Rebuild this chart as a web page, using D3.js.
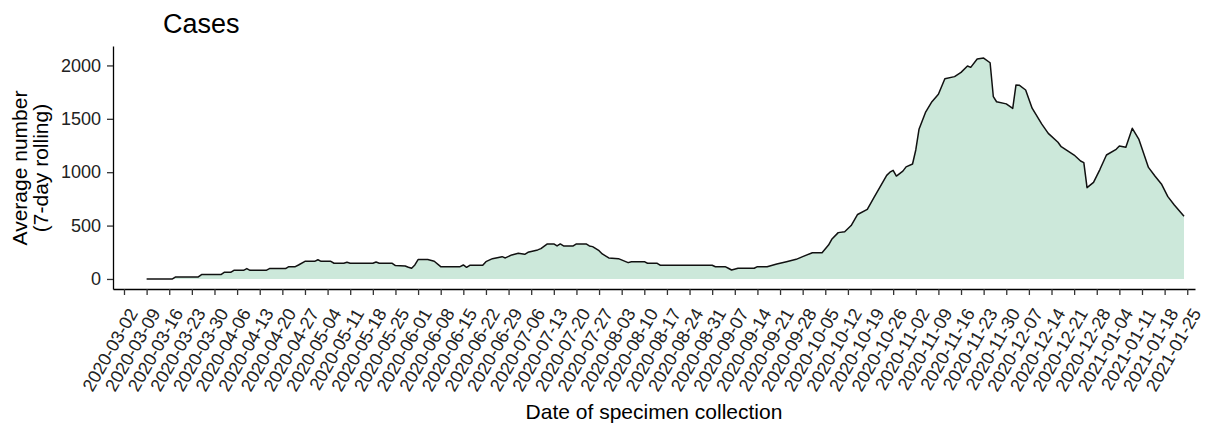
<!DOCTYPE html>
<html>
<head>
<meta charset="utf-8">
<script src="https://cdn.jsdelivr.net/npm/d3@7"></script>
<style>
  body { margin: 0; background: #fff; }
  svg { display: block; font-family: "Liberation Sans", Arial, sans-serif; }
</style>
</head>
<body>
<svg id="chart" width="1211" height="434"></svg>
<script>
// DATA
const title = "Cases";
const yTitle = ["Average number", "(7-day rolling)"];
const xTitle = "Date of specimen collection";

const dates = [
  "2020-03-09","2020-03-17","2020-03-18","2020-03-25","2020-03-26","2020-04-01","2020-04-02","2020-04-04",
  "2020-04-05","2020-04-08","2020-04-09","2020-04-10","2020-04-15","2020-04-16","2020-04-21","2020-04-22",
  "2020-04-24","2020-04-25","2020-04-27","2020-04-30","2020-05-01","2020-05-02","2020-05-05","2020-05-06",
  "2020-05-09","2020-05-10","2020-05-11","2020-05-18","2020-05-19","2020-05-20","2020-05-24","2020-05-25",
  "2020-05-28","2020-05-29","2020-05-30","2020-05-31","2020-06-01","2020-06-04","2020-06-06","2020-06-08",
  "2020-06-14","2020-06-15","2020-06-16","2020-06-17","2020-06-21","2020-06-22","2020-06-24","2020-06-27",
  "2020-06-28","2020-06-30","2020-07-02","2020-07-04","2020-07-05","2020-07-08","2020-07-09","2020-07-11",
  "2020-07-13","2020-07-14","2020-07-15","2020-07-16","2020-07-19","2020-07-20","2020-07-23","2020-07-24",
  "2020-07-25","2020-07-27","2020-07-28","2020-07-30","2020-08-02","2020-08-05","2020-08-06","2020-08-10",
  "2020-08-11","2020-08-14","2020-08-15","2020-08-31","2020-09-01","2020-09-04","2020-09-05","2020-09-06",
  "2020-09-08","2020-09-13","2020-09-14","2020-09-17","2020-09-20","2020-09-23","2020-09-26","2020-09-28",
  "2020-10-01","2020-10-04","2020-10-06","2020-10-07","2020-10-09","2020-10-11","2020-10-13","2020-10-15",
  "2020-10-18","2020-10-20","2020-10-22","2020-10-24","2020-10-25","2020-10-26","2020-10-27","2020-10-29",
  "2020-10-30","2020-11-01","2020-11-02","2020-11-03","2020-11-05","2020-11-07","2020-11-09","2020-11-11",
  "2020-11-14","2020-11-16","2020-11-18","2020-11-19","2020-11-21","2020-11-23","2020-11-25","2020-11-26",
  "2020-11-27","2020-11-30","2020-12-02","2020-12-03","2020-12-04","2020-12-06","2020-12-08","2020-12-11",
  "2020-12-13","2020-12-16","2020-12-17","2020-12-19","2020-12-21","2020-12-23","2020-12-24","2020-12-25",
  "2020-12-27","2020-12-29","2020-12-31","2021-01-03","2021-01-04","2021-01-06","2021-01-08","2021-01-10",
  "2021-01-13","2021-01-15","2021-01-17","2021-01-19","2021-01-21","2021-01-24"
];
const cases = [
  0,0,19,19,41,41,62,62,
  81,81,97,81,81,97,97,115,
  115,131,165,165,180,165,165,147,
  147,157,147,147,159,147,147,125,
  122,110,100,131,182,182,166,115,
  115,131,109,128,128,162,190,209,
  197,225,240,231,250,272,284,328,
  328,309,328,309,309,328,328,309,
  303,265,234,197,190,153,162,162,
  147,147,128,128,115,115,100,84,
  100,100,115,115,140,162,184,209,
  246,246,318,371,434,442,500,604,
  652,760,864,970,1000,1018,964,1010,
  1050,1077,1208,1402,1560,1660,1730,1875,
  1895,1935,1994,1982,2060,2069,2025,1707,
  1660,1640,1598,1816,1815,1770,1600,1450,
  1364,1280,1239,1200,1161,1105,1090,855,
  905,1027,1161,1214,1245,1233,1411,1310,
  1045,964,890,771,693,587
];

const yTicks = [0, 500, 1000, 1500, 2000];
const firstTick = "2020-03-02";
const lastTick = "2021-01-25";

// SETUP
const parse = d3.utcParse("%Y-%m-%d");
const fmt = d3.utcFormat("%Y-%m-%d");
const data = dates.map((d, i) => ({ date: parse(d), value: cases[i] }));
const xTickValues = d3.utcMonday.range(parse(firstTick), d3.utcDay.offset(parse(lastTick), 1));

const svg = d3.select("#chart");

const x = d3.scaleUtc()
    .domain([new Date(Date.UTC(2020, 1, 27, 14, 24)), new Date(Date.UTC(2021, 0, 27, 9, 36))])
    .range([113, 1195]);

const y = d3.scaleLinear()
    .domain([-94, 2182])
    .range([289, 46]);

// area + line
const area = d3.area()
    .x(d => x(d.date))
    .y0(y(0))
    .y1(d => y(d.value));

const line = d3.line()
    .x(d => x(d.date))
    .y(d => y(d.value));

svg.append("path")
    .datum(data)
    .attr("fill", "#cce8da")
    .attr("d", area);

svg.append("path")
    .datum(data)
    .attr("fill", "none")
    .attr("stroke", "#111")
    .attr("stroke-width", 1.5)
    .attr("stroke-linejoin", "round")
    .attr("d", line);

// x axis
const xAxis = svg.append("g")
    .attr("transform", `translate(0,${y.range()[0]})`)
    .call(d3.axisBottom(x).tickValues(xTickValues).tickFormat(fmt).tickSize(6).tickSizeOuter(0));

xAxis.select(".domain").attr("stroke", "#000").attr("stroke-width", 1.3);
xAxis.selectAll(".tick line").attr("stroke", "#333").attr("stroke-width", 1.3);
xAxis.selectAll(".tick text")
    .attr("y", null)
    .attr("dy", null)
    .attr("text-anchor", "end")
    .attr("transform", "translate(14,24) rotate(-60)")
    .attr("fill", "#222")
    .style("font-size", "18px");

// y axis
const yAxis = svg.append("g")
    .attr("transform", `translate(${x.range()[0]},0)`)
    .call(d3.axisLeft(y).tickValues(yTicks).tickFormat(d3.format("d")).tickSize(6).tickSizeOuter(0).tickPadding(6));

yAxis.select(".domain").attr("stroke", "#000").attr("stroke-width", 1.3);
yAxis.selectAll(".tick line").attr("stroke", "#333").attr("stroke-width", 1.3);
yAxis.selectAll(".tick text")
    .attr("fill", "#222")
    .style("font-size", "18px");

// titles
svg.append("text")
    .attr("x", 163)
    .attr("y", 33)
    .attr("font-size", 27)
    .attr("fill", "#000")
    .text(title);

svg.append("text")
    .attr("x", 654)
    .attr("y", 419)
    .attr("text-anchor", "middle")
    .attr("font-size", 21)
    .attr("fill", "#000")
    .text(xTitle);

svg.append("g")
    .attr("transform", "translate(0,168) rotate(-90)")
  .selectAll("text")
  .data(yTitle)
  .join("text")
    .attr("x", 0)
    .attr("y", (d, i) => 27 + i * 21)
    .attr("text-anchor", "middle")
    .attr("font-size", 21)
    .attr("fill", "#000")
    .text(d => d);
</script>
</body>
</html>
